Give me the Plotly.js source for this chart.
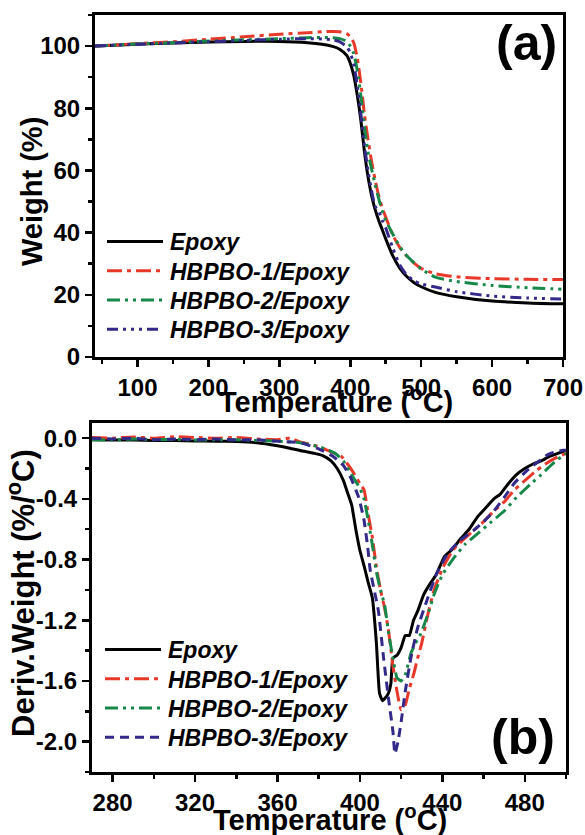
<!DOCTYPE html>
<html>
<head>
<meta charset="utf-8">
<script src="https://cdn.plot.ly/plotly-3.0.1.min.js"></script>
<style>
  html, body { margin: 0; padding: 0; background: #fff; }
  #chart { width: 585px; height: 835px; }
</style>
</head>
<body>
<div id="chart"></div>
<script>
// ---------- Data: (a) TGA ----------
const seriesNames = ['Epoxy', 'HBPBO-1/Epoxy', 'HBPBO-2/Epoxy', 'HBPBO-3/Epoxy'];
const tgaTemp = [40, 100, 150, 200, 250, 300, 340, 360, 375, 385, 395, 400, 405, 410, 415, 420, 425, 430, 435, 440, 445, 450, 460, 470, 480, 490, 500, 520, 550, 600, 650, 700];
const tgaEpoxy = [100.0, 100.6, 101.0, 101.3, 101.5, 101.5, 101.1, 100.6, 99.9, 99.0, 97.0, 94.5, 90.5, 84.0, 76.0, 66.0, 58.0, 52.0, 47.5, 44.0, 41.0, 38.0, 32.5, 28.5, 25.8, 23.9, 22.6, 20.8, 19.4, 18.0, 17.4, 17.1];
const tgaHB1   = [100.0, 100.8, 101.4, 102.2, 103.0, 103.8, 104.3, 104.6, 104.7, 104.6, 104.0, 103.0, 101.0, 96.0, 88.0, 78.0, 70.0, 63.0, 57.0, 52.0, 48.0, 45.0, 39.2, 35.2, 32.4, 30.2, 28.5, 26.8, 25.8, 25.2, 25.0, 24.9];
const tgaHB2   = [100.0, 100.7, 101.1, 101.6, 102.0, 102.4, 102.7, 102.8, 102.7, 102.4, 101.5, 100.0, 97.5, 92.0, 84.0, 74.0, 66.0, 60.5, 55.5, 51.0, 47.0, 44.0, 39.5, 35.5, 32.5, 30.3, 28.3, 25.7, 24.3, 23.0, 22.3, 21.8];
const tgaHB3   = [100.0, 100.6, 101.0, 101.4, 101.8, 102.2, 102.4, 102.3, 102.0, 101.4, 99.8, 97.8, 94.0, 87.0, 78.0, 68.0, 60.0, 53.5, 48.5, 47.0, 44.0, 41.5, 35.0, 29.5, 26.3, 24.5, 23.5, 22.5, 21.0, 19.6, 19.0, 18.6];

// ---------- Data: (b) DTG ----------
const dtgTempEpoxy = [270, 280, 290, 300, 310, 320, 330, 340, 350, 360, 366, 372, 378, 382, 386, 389, 392, 394, 396, 398, 400, 402, 404, 406, 408, 409.5, 411, 413.5, 415, 416, 418, 420, 422, 424, 426, 428, 431, 434, 437, 441, 445, 449, 453, 457, 461, 465, 468, 472, 476, 480, 484, 488, 492, 496, 500];
const dtgEpoxy     = [-0.010, -0.012, -0.012, -0.015, -0.015, -0.018, -0.020, -0.022, -0.030, -0.050, -0.066, -0.085, -0.100, -0.115, -0.150, -0.200, -0.280, -0.360, -0.440, -0.600, -0.740, -0.840, -0.950, -1.050, -1.350, -1.680, -1.730, -1.690, -1.620, -1.450, -1.430, -1.380, -1.300, -1.300, -1.200, -1.140, -1.030, -0.960, -0.900, -0.780, -0.730, -0.660, -0.600, -0.520, -0.460, -0.400, -0.370, -0.300, -0.240, -0.200, -0.170, -0.150, -0.120, -0.100, -0.080];

const dtgTempHB1 = [270, 280, 290, 300, 310, 320, 330, 340, 350, 360, 366, 371, 376, 381, 386, 391, 394, 397, 400, 402, 404, 406, 408, 410, 412, 414, 416, 418, 420, 422, 424, 426, 428, 430, 433, 436, 440, 445, 450, 455, 460, 465, 470, 475, 480, 485, 490, 495, 500];
const dtgHB1     = [0.005, 0.000, 0.008, 0.000, 0.010, 0.005, 0.000, 0.005, -0.005, -0.010, 0.000, -0.025, -0.040, -0.060, -0.090, -0.120, -0.170, -0.230, -0.300, -0.340, -0.500, -0.650, -0.850, -1.000, -1.120, -1.280, -1.500, -1.670, -1.790, -1.760, -1.650, -1.560, -1.450, -1.350, -1.160, -1.000, -0.860, -0.740, -0.670, -0.610, -0.550, -0.480, -0.420, -0.340, -0.280, -0.220, -0.170, -0.130, -0.100];

const dtgTempHB2 = [270, 280, 290, 300, 310, 320, 330, 340, 350, 360, 371, 381, 388, 392, 395.5, 400, 402, 404, 406, 408, 410, 412, 414, 416, 418, 420, 422, 424.7, 427, 429.5, 433, 436, 440, 445.5, 451, 457, 463, 470, 476, 483, 488, 492.6, 496, 500];
const dtgHB2     = [-0.010, -0.012, -0.005, -0.010, -0.008, -0.012, -0.010, -0.010, -0.015, -0.020, -0.030, -0.060, -0.100, -0.150, -0.230, -0.330, -0.400, -0.540, -0.700, -0.880, -1.000, -1.100, -1.290, -1.450, -1.580, -1.600, -1.560, -1.420, -1.350, -1.290, -1.160, -1.030, -0.900, -0.790, -0.700, -0.630, -0.560, -0.480, -0.390, -0.300, -0.240, -0.180, -0.140, -0.100];

const dtgTempHB3 = [270, 280, 290, 300, 310, 320, 330, 340, 350, 360, 371, 380, 387, 392, 395.5, 399.4, 402, 403.8, 405, 407.7, 409, 411.5, 414, 416, 417, 418.5, 420, 422, 424.7, 428, 433, 437, 442.6, 448, 455, 460, 465, 470, 474.7, 479, 483, 487, 491, 495, 498.5, 500];
const dtgHB3     = [0.000, -0.005, 0.000, -0.010, -0.005, -0.010, -0.005, -0.012, -0.010, -0.020, -0.030, -0.070, -0.120, -0.180, -0.260, -0.390, -0.540, -0.720, -0.870, -1.050, -1.140, -1.450, -1.730, -1.930, -2.080, -2.000, -1.870, -1.670, -1.450, -1.250, -1.050, -0.900, -0.760, -0.680, -0.610, -0.550, -0.480, -0.390, -0.300, -0.240, -0.190, -0.150, -0.110, -0.090, -0.080, -0.080];

// ---------- Tick labels and titles ----------
const dtgYTickVals = [0, -0.4, -0.8, -1.2, -1.6, -2.0];
const dtgYTickText = ['0.0', '-0.4', '-0.8', '-1.2', '-1.6', '-2.0'];
const xTitle = 'Temperature (<sup>o</sup>C)';
const yTitleTop = 'Weight (%)';
const yTitleBottom = 'Deriv.Weight (%/<sup>o</sup>C)';
const panelLabels = ['(a)', '(b)'];

// ---------- Styles ----------
const colors = ['#000000', '#E8382A', '#16894A', '#33298A'];
const dashTop = ['solid', '15px,5px,4px,5px', '13px,5px,3px,5px,3px,5px', '11px,5px,3px,5px,3px,5px,3px,5px'];
const dashBot = ['solid', '15px,5px,4px,5px', '13px,5px,3px,5px,3px,5px', '9px,6px'];
const FONT = 'Liberation Sans, Arial, Helvetica, sans-serif';

const tgaY = [tgaEpoxy, tgaHB1, tgaHB2, tgaHB3];
const dtgX = [dtgTempEpoxy, dtgTempHB1, dtgTempHB2, dtgTempHB3];
const dtgY = [dtgEpoxy, dtgHB1, dtgHB2, dtgHB3];

const data = [];
for (let i = 0; i < 4; i++) {
  data.push({
    type: 'scatter', mode: 'lines', name: seriesNames[i],
    x: tgaTemp, y: tgaY[i], xaxis: 'x', yaxis: 'y', legend: 'legend',
    line: { color: colors[i], width: 3, dash: dashTop[i], shape: 'spline', smoothing: 0.6 }
  });
}
for (let i = 0; i < 4; i++) {
  data.push({
    type: 'scatter', mode: 'lines', name: seriesNames[i],
    x: dtgX[i], y: dtgY[i], xaxis: 'x2', yaxis: 'y2', legend: 'legend2',
    line: { color: colors[i], width: 3, dash: dashBot[i], shape: 'spline', smoothing: 0.4 }
  });
}

const axisCommon = {
  showline: true, linecolor: '#000', linewidth: 3, mirror: true,
  ticks: 'outside', ticklen: 7, tickwidth: 2.5, tickcolor: '#000',
  showgrid: false, zeroline: false,
  tickfont: { family: FONT, size: 24, color: '#000', weight: 'bold' }
};
const minorCommon = { ticks: 'outside', ticklen: 4, tickwidth: 2.5, tickcolor: '#000' };
const titleFont = (s) => ({ family: FONT, size: s, color: '#000', weight: 'bold' });

const layout = {
  width: 585, height: 835,
  margin: { l: 92, r: 19, t: 15, b: 63 },
  paper_bgcolor: '#fff', plot_bgcolor: '#fff',
  showlegend: true,
  font: { family: FONT, color: '#000' },
  xaxis: Object.assign({}, axisCommon, {
    domain: [0.0063, 0.9937], anchor: 'y', range: [40, 700],
    tick0: 0, dtick: 100,
    minor: Object.assign({ dtick: 50, tick0: 0 }, minorCommon)
  }),
  yaxis: Object.assign({}, axisCommon, {
    domain: [0.5482, 1], anchor: 'x', range: [0, 110],
    tick0: 0, dtick: 20,
    minor: Object.assign({ dtick: 10, tick0: 0 }, minorCommon)
  }),
  xaxis2: Object.assign({}, axisCommon, {
    domain: [0, 1], anchor: 'y2', range: [270, 500],
    tick0: 280, dtick: 40,
    minor: Object.assign({ dtick: 20, tick0: 280 }, minorCommon)
  }),
  yaxis2: Object.assign({}, axisCommon, {
    domain: [0, 0.4610], anchor: 'x2', range: [-2.2, 0.1],
    tickmode: 'array', tickvals: dtgYTickVals, ticktext: dtgYTickText,
    minor: Object.assign({ tickmode: 'linear', dtick: 0.2, tick0: 0 }, minorCommon)
  }),
  legend: {
    x: 0.0211, y: 0.7292, xanchor: 'left', yanchor: 'top',
    bgcolor: 'rgba(0,0,0,0)', borderwidth: 0, itemwidth: 58, tracegroupgap: 0,
    font: { family: FONT, size: 23, color: '#000', weight: 'bold', style: 'italic' }
  },
  legend2: {
    x: 0.0169, y: 0.1902, xanchor: 'left', yanchor: 'top',
    bgcolor: 'rgba(0,0,0,0)', borderwidth: 0, itemwidth: 58, tracegroupgap: 0,
    font: { family: FONT, size: 23, color: '#000', weight: 'bold', style: 'italic' }
  },
  annotations: [
    { xref: 'x', yref: 'y', x: 648, y: 101, text: panelLabels[0], showarrow: false,
      xanchor: 'center', yanchor: 'middle', font: titleFont(50) },
    { xref: 'x2', yref: 'y2', x: 479, y: -1.97, text: panelLabels[1], showarrow: false,
      xanchor: 'center', yanchor: 'middle', font: titleFont(50) },
    // axis titles
    { xref: 'paper', yref: 'paper', x: 0.5139, y: 0.4914, text: xTitle, showarrow: false,
      xanchor: 'center', yanchor: 'middle', font: titleFont(29) },
    { xref: 'paper', yref: 'paper', x: 0.5021, y: -0.0610, text: xTitle, showarrow: false,
      xanchor: 'center', yanchor: 'middle', font: titleFont(29) },
    { xref: 'paper', yref: 'paper', x: -0.1266, y: 0.7675, text: yTitleTop, showarrow: false,
      textangle: -90, xanchor: 'center', yanchor: 'middle', font: titleFont(29) },
    { xref: 'paper', yref: 'paper', x: -0.1498, y: 0.2365, text: yTitleBottom, showarrow: false,
      textangle: -90, xanchor: 'center', yanchor: 'middle', font: titleFont(31) }
  ]
};

Plotly.newPlot('chart', data, layout, { staticPlot: true, displayModeBar: false }).then(function (gd) {
  // longer legend line samples, as in the original figure
  gd.querySelectorAll('.legendlines path').forEach(function (p) {
    p.setAttribute('d', 'M5,0h56');
  });
  // tighter legend row spacing
  const groups = new Map();
  gd.querySelectorAll('g.traces').forEach(function (t) {
    const par = t.parentNode;
    if (!groups.has(par)) groups.set(par, []);
    groups.get(par).push(t);
  });
  groups.forEach(function (items) {
    let y0 = null;
    items.forEach(function (it, i) {
      const m = /translate\(\s*([-\d.e]+)[ ,]+([-\d.e]+)\s*\)/.exec(it.getAttribute('transform') || '');
      if (!m) return;
      const x = parseFloat(m[1]);
      const y = parseFloat(m[2]);
      if (y0 === null) y0 = y;
      it.setAttribute('transform', 'translate(' + x + ',' + (y0 + i * 29.3) + ')');
    });
  });
});
</script>
</body>
</html>
